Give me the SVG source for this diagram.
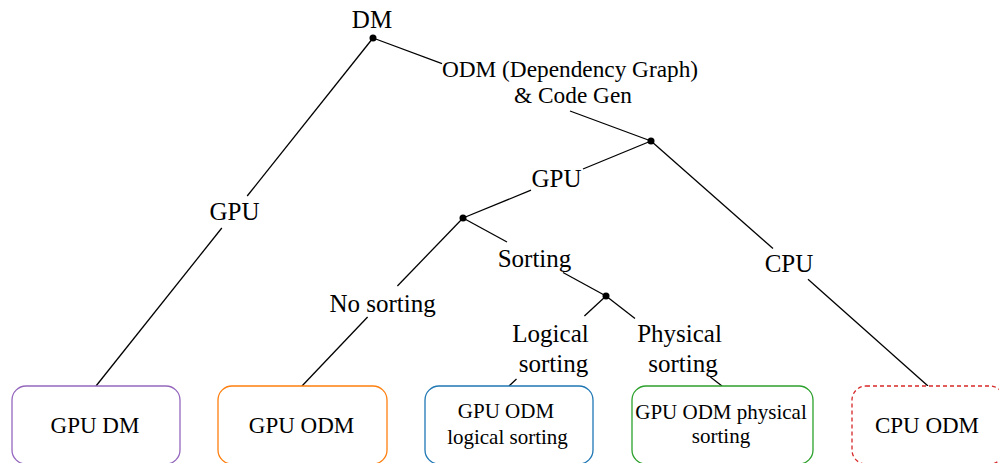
<svg xmlns="http://www.w3.org/2000/svg" width="999" height="463" viewBox="0 0 999 463">
<style>
.lbl{font-size:25px;fill:#000;text-anchor:middle}
.lbl2{font-size:23.3px;fill:#000;text-anchor:middle}
.bt{font-size:23px;fill:#000;text-anchor:middle}
.bt2{font-size:21px;fill:#000;text-anchor:middle}
.edge{stroke:#000;stroke-width:1.3;fill:none}
.dot{fill:#000}
.box{fill:#fff;stroke-width:1.3}
</style>
<rect width="999" height="463" fill="#fff"/>
<g id="connectors">
  <line class="edge" x1="373" y1="38" x2="247.2" y2="196"/>
  <line class="edge" x1="221.8" y1="228" x2="96" y2="386"/>
  <line class="edge" x1="373" y1="38" x2="442" y2="63.6"/>
  <line class="edge" x1="570" y1="111" x2="651" y2="141"/>
  <line class="edge" x1="651" y1="141" x2="583" y2="169"/>
  <line class="edge" x1="531" y1="190.2" x2="463" y2="218"/>
  <line class="edge" x1="651" y1="141" x2="773" y2="248.5"/>
  <line class="edge" x1="808" y1="279.3" x2="928" y2="386"/>
  <line class="edge" x1="463" y1="218" x2="397.4" y2="286"/>
  <line class="edge" x1="367.6" y1="317" x2="302" y2="386"/>
  <line class="edge" x1="463" y1="218" x2="507" y2="242"/>
  <line class="edge" x1="563" y1="272.5" x2="606" y2="296"/>
  <line class="edge" x1="606" y1="296" x2="584.4" y2="316"/>
  <line class="edge" x1="516.5" y1="379" x2="509" y2="386"/>
  <line class="edge" x1="606" y1="296" x2="635" y2="318.5"/>
  <line class="edge" x1="710.4" y1="377" x2="722" y2="386"/>
  <text class="lbl" font-family="Liberation Serif" x="234.5" y="220">GPU</text>
  <text class="lbl2" font-family="Liberation Serif" x="570" y="77">ODM (Dependency Graph)</text>
  <text class="lbl2" font-family="Liberation Serif" x="573" y="103">&amp; Code Gen</text>
  <text class="lbl" font-family="Liberation Serif" x="556.5" y="187">GPU</text>
  <text class="lbl" font-family="Liberation Serif" x="789" y="272">CPU</text>
  <text class="lbl" font-family="Liberation Serif" x="382.5" y="312">No sorting</text>
  <text class="lbl" font-family="Liberation Serif" x="534.5" y="267">Sorting</text>
  <text class="lbl" font-family="Liberation Serif" x="550.5" y="342">Logical</text>
  <text class="lbl" font-family="Liberation Serif" x="553.5" y="372">sorting</text>
  <text class="lbl" font-family="Liberation Serif" x="679.5" y="342">Physical</text>
  <text class="lbl" font-family="Liberation Serif" x="683" y="372">sorting</text>
</g>
<g id="node-dm">
  <circle class="dot" cx="373" cy="38" r="3.5"/>
  <text class="lbl" font-family="Liberation Serif" x="372" y="28">DM</text>
</g>
<g id="node-odm"><circle class="dot" cx="651" cy="141" r="3.5"/></g>
<g id="node-gpu"><circle class="dot" cx="463" cy="218" r="3.5"/></g>
<g id="node-sorting"><circle class="dot" cx="606" cy="296" r="3.5"/></g>
<g id="gpu-dm">
  <rect class="box" x="12" y="386" width="168" height="78" rx="14" stroke="#9467bd"/>
  <text class="bt" font-family="Liberation Serif" x="95" y="433">GPU DM</text>
</g>
<g id="gpu-odm">
  <rect class="box" x="218" y="386" width="169" height="78" rx="14" stroke="#ff7f0e"/>
  <text class="bt" font-family="Liberation Serif" x="301.5" y="433">GPU ODM</text>
</g>
<g id="gpu-odm-logical">
  <rect class="box" x="425" y="386" width="168" height="78" rx="14" stroke="#1f77b4"/>
  <text class="bt2" font-family="Liberation Serif" x="506" y="418">GPU ODM</text>
  <text class="bt2" font-family="Liberation Serif" x="507.5" y="444">logical sorting</text>
</g>
<g id="gpu-odm-physical">
  <rect class="box" x="632" y="386" width="181" height="78" rx="14" stroke="#2ca02c"/>
  <text class="bt2" font-family="Liberation Serif" x="721" y="419">GPU ODM physical</text>
  <text class="bt2" font-family="Liberation Serif" x="721" y="443">sorting</text>
</g>
<g id="cpu-odm">
  <rect class="box" x="852" y="386" width="152" height="78" rx="14" stroke="#d62728" stroke-dasharray="4 3"/>
  <text class="bt" font-family="Liberation Serif" x="927" y="433">CPU ODM</text>
</g>
</svg>
